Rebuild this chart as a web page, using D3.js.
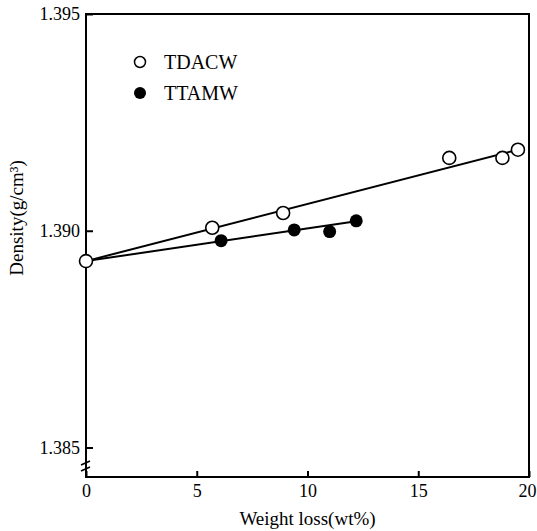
<!DOCTYPE html>
<html>
<head>
<meta charset="utf-8">
<script src="https://cdn.jsdelivr.net/npm/d3@7"></script>
<style>
  body { margin: 0; background: #fff; }
  text { font-family: "Liberation Serif", "DejaVu Serif", serif; fill: #000; }
</style>
</head>
<body>
<svg id="chart" width="537" height="531"></svg>
<script>
// weight loss (wt%) vs density (g/cm3)
const tdacwX = [0, 5.7, 8.9, 16.4, 18.8, 19.5];
const tdacwY = [1.3893, 1.39007, 1.39041, 1.39168, 1.39168, 1.39187];
const ttamwX = [0, 6.1, 9.4, 11.0, 12.2];
const ttamwY = [1.3893, 1.38977, 1.39002, 1.38998, 1.39023];

// fitted straight lines drawn in the figure
const tdacwFit = [[0, 1.3893], [19.5, 1.39187]];
const ttamwFit = [[0, 1.3893], [12.2, 1.39022]];

const xTicks = [0, 5, 10, 15, 20];
const yTicks = [1.385, 1.390, 1.395];

const svg = d3.select('#chart');
const pad = {left: 86, right: 529, top: 14, bottom: 477};

const x = d3.scaleLinear().domain([0, 20]).range([pad.left, pad.right]);
const y = d3.scaleLinear().domain([1.385, 1.395]).range([447.5, pad.top]);

// frame
svg.append('rect')
    .attr('x', pad.left).attr('y', pad.top)
    .attr('width', pad.right - pad.left).attr('height', pad.bottom - pad.top)
    .attr('fill', 'none').attr('stroke', '#000').attr('stroke-width', 2);

// axes (inward ticks)
const xAxis = svg.append('g')
    .attr('transform', `translate(0,${pad.bottom})`)
    .call(d3.axisBottom(x).tickValues(xTicks).tickFormat(d3.format('d'))
        .tickSize(-6).tickSizeOuter(0).tickPadding(7));
xAxis.select('.domain').remove();
// last label sits at the page edge, nudge it in a little
xAxis.selectAll('.tick text').filter(d => d === 20).attr('dx', '-2');

const yAxis = svg.append('g')
    .attr('transform', `translate(${pad.left},0)`)
    .call(d3.axisLeft(y).tickValues(yTicks).tickFormat(d3.format('.3f'))
        .tickSize(-7).tickSizeOuter(0).tickPadding(6));
yAxis.select('.domain').remove();

svg.selectAll('.tick line').attr('stroke', '#000').attr('stroke-width', 2);
svg.selectAll('.tick text')
    .style('font-family', '"Liberation Serif", serif')
    .style('font-size', '18px');

// axis break on the y axis
const brk = svg.append('g').attr('stroke', '#000').attr('stroke-width', 1.6).attr('fill', 'none');
brk.append('path').attr('d', `M${pad.left - 5},465 L${pad.left + 4},461`);
brk.append('path').attr('d', `M${pad.left - 5},471 L${pad.left + 4},467`);

// fit lines
const line = d3.line().x(d => x(d[0])).y(d => y(d[1]));
svg.append('path').datum(tdacwFit).attr('d', line)
    .attr('fill', 'none').attr('stroke', '#000').attr('stroke-width', 2);
svg.append('path').datum(ttamwFit).attr('d', line)
    .attr('fill', 'none').attr('stroke', '#000').attr('stroke-width', 2);

// points
svg.append('g').selectAll('circle')
    .data(d3.zip(ttamwX, ttamwY).slice(1))
    .join('circle')
    .attr('cx', d => x(d[0])).attr('cy', d => y(d[1])).attr('r', 6.5)
    .attr('fill', '#000');

svg.append('g').selectAll('circle')
    .data(d3.zip(tdacwX, tdacwY))
    .join('circle')
    .attr('cx', d => x(d[0])).attr('cy', d => y(d[1])).attr('r', 6.5)
    .attr('fill', '#fff').attr('stroke', '#000').attr('stroke-width', 1.6);

// legend
const legend = svg.append('g');
legend.append('circle').attr('cx', 140).attr('cy', 62).attr('r', 5.5)
    .attr('fill', '#fff').attr('stroke', '#000').attr('stroke-width', 1.5);
legend.append('text').attr('x', 164).attr('y', 62).attr('dy', '0.35em')
    .style('font-size', '20px').text('TDACW');
legend.append('circle').attr('cx', 140).attr('cy', 93).attr('r', 6)
    .attr('fill', '#000');
legend.append('text').attr('x', 164).attr('y', 93).attr('dy', '0.35em')
    .style('font-size', '20px').text('TTAMW');

// axis titles
svg.append('text')
    .attr('x', (pad.left + pad.right) / 2).attr('y', 525)
    .attr('text-anchor', 'middle')
    .style('font-size', '19px')
    .text('Weight loss(wt%)');

svg.append('text')
    .attr('transform', 'translate(23,218) rotate(-90)')
    .attr('text-anchor', 'middle')
    .style('font-size', '19px')
    .text('Density(g/cm³)');
</script>
</body>
</html>
